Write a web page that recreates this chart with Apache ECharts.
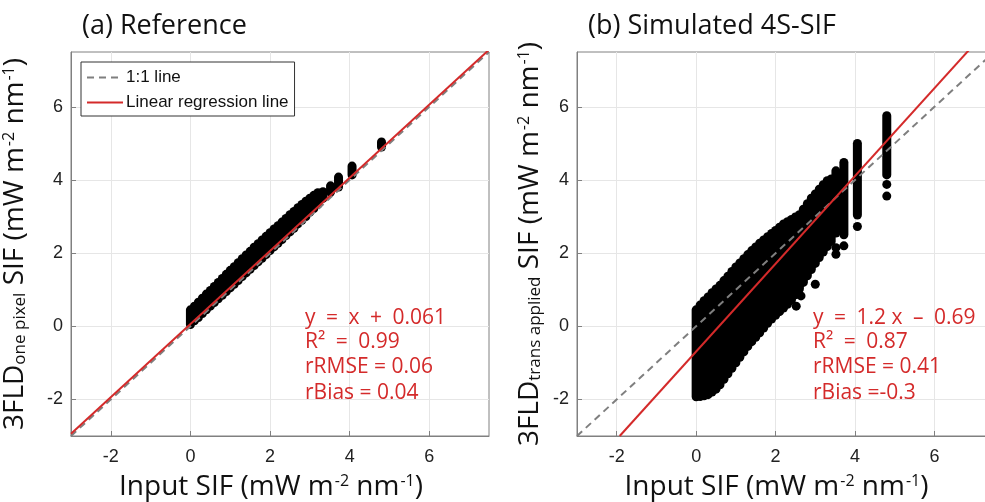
<!DOCTYPE html>
<html>
<head>
<meta charset="utf-8">
<script src="https://cdn.jsdelivr.net/npm/echarts@6/dist/echarts.min.js"></script>
<style>
  html, body { margin: 0; padding: 0; background: #fff; }
  #chart { width: 985px; height: 502px; }
</style>
</head>
<body>
<div id="chart"></div>
<script>
// tick labels shared by both panels
var tickValues = [-2, 0, 2, 4, 6];

// (a) Reference: points stack in columns at each input SIF value (x, lowest y, highest y)
var aColX  = [0, 0.1, 0.2, 0.3, 0.4, 0.5, 0.6, 0.7, 0.8, 0.9, 1.0, 1.1, 1.2, 1.3, 1.4, 1.5, 1.6, 1.7, 1.8, 1.9, 2.0, 2.1, 2.2, 2.3, 2.4, 2.5, 2.6, 2.7, 2.8, 2.9, 3.0, 3.1, 3.2, 3.33, 3.52, 3.72, 4.06, 4.8];
var aColLo = [0.05, 0.15, 0.24, 0.35, 0.45, 0.55, 0.65, 0.75, 0.85, 0.95, 1.05, 1.15, 1.25, 1.36, 1.46, 1.56, 1.66, 1.76, 1.86, 1.96, 2.07, 2.17, 2.27, 2.37, 2.48, 2.58, 2.68, 2.8, 2.9, 3.0, 3.12, 3.22, 3.33, 3.5, 3.67, 3.81, 4.14, 4.9];
var aColHi = [0.45, 0.55, 0.66, 0.77, 0.88, 0.98, 1.09, 1.2, 1.31, 1.42, 1.53, 1.63, 1.74, 1.85, 1.95, 2.05, 2.16, 2.26, 2.36, 2.46, 2.56, 2.66, 2.75, 2.85, 2.95, 3.05, 3.14, 3.24, 3.33, 3.42, 3.5, 3.58, 3.65, 3.68, 3.84, 4.08, 4.38, 5.04];

// (b) Simulated 4S-SIF
var bColX  = [0, 0.1, 0.2, 0.3, 0.4, 0.5, 0.6, 0.7, 0.8, 0.9, 1.0, 1.1, 1.2, 1.3, 1.4, 1.5, 1.6, 1.7, 1.8, 1.9, 2.0, 2.1, 2.2, 2.3, 2.4, 2.5, 2.6, 2.7, 2.8, 2.9, 3.0, 3.1, 3.2, 3.3, 3.4, 3.52, 3.72, 4.06, 4.8];
var bColLo = [-1.93, -1.92, -1.9, -1.87, -1.8, -1.72, -1.6, -1.45, -1.3, -1.15, -1.0, -0.85, -0.7, -0.55, -0.42, -0.3, -0.18, -0.05, 0.08, 0.2, 0.3, 0.4, 0.5, 0.6, 0.72, 0.86, 1.02, 1.2, 1.38, 1.55, 1.72, 1.88, 2.03, 2.18, 2.32, 2.55, 2.5, 3.04, 4.14];
var bColHi = [0.45, 0.58, 0.7, 0.8, 0.92, 1.02, 1.12, 1.25, 1.37, 1.5, 1.62, 1.73, 1.85, 1.96, 2.07, 2.17, 2.27, 2.36, 2.45, 2.54, 2.62, 2.71, 2.8, 2.86, 2.92, 2.99, 3.05, 3.2, 3.35, 3.5, 3.62, 3.75, 3.87, 3.98, 4.03, 4.25, 4.48, 5.0, 5.76];
// loose points under the columns
var bDotX = [2.52, 2.64, 3.0, 3.52, 3.52, 3.72, 4.06, 4.8, 4.8];
var bDotY = [0.55, 0.83, 1.15, 2.15, 1.97, 2.2, 2.73, 3.88, 3.56];

// 1:1 line and regression lines (end points)
var oneX = [-3, 7.5], oneY = [-3, 7.5];
var aFitX = [-3, 7.5], aFitY = [-2.939, 7.561];   // y = x + 0.061
var bFitX = [-1.925, 7.4], bFitY = [-3, 8.19];    // y = 1.2 x - 0.69

var SP = '\u2002';
var aStats = ['y' + SP + '=' + SP + 'x' + SP + '+' + SP + '0.061', 'R\u00b2' + SP + '=' + SP + '0.99', 'rRMSE = 0.06', 'rBias = 0.04'];
var bStats = ['y' + SP + '=' + SP + '1.2 x' + SP + '\u2013' + SP + '0.69', 'R\u00b2' + SP + '=' + SP + '0.87', 'rRMSE = 0.41', 'rBias =-0.3'];

var RED = '#d42a2a';
var GRAY = '#7f7f7f';
var AXC = '#808080';
var TXT = 'Open Sans';

function zip(xs, ys) {
  var out = [];
  for (var i = 0; i < xs.length; i++) out.push([xs[i], ys[i]]);
  return out;
}
function cols(xs, lo, hi) {
  var out = [];
  for (var i = 0; i < xs.length; i++) out.push([xs[i], lo[i], hi[i]]);
  return out;
}

function renderCol(params, api) {
  var p1 = api.coord([api.value(0), api.value(1)]);
  var p2 = api.coord([api.value(0), api.value(2)]);
  return {
    type: 'line',
    shape: { x1: p1[0], y1: p1[1], x2: p2[0], y2: p2[1] },
    style: { stroke: '#000', lineWidth: 9, lineCap: 'round' }
  };
}

var supStyle = { fontSize: 16, fontFamily: TXT, color: '#111', verticalAlign: 'top', padding: [0, 0, 0, 1] };
var subStyle = { fontSize: 17, fontFamily: TXT, color: '#111', verticalAlign: 'bottom' };

function xAxisOf(idx) {
  return {
    type: 'value', gridIndex: idx, min: -3, max: 7.5,
    name: 'Input SIF (mW m{sup|-2} nm{sup|-1})',
    nameLocation: 'middle', nameGap: 37, nameMoveOverlap: false,
    nameTextStyle: { fontSize: 28, fontFamily: TXT, color: '#111', padding: [0, 18, 0, 0], rich: { sup: supStyle } },
    axisLine: { onZero: false, lineStyle: { color: AXC } },
    axisTick: { inside: true, length: 5, customValues: tickValues, lineStyle: { color: AXC } },
    axisLabel: { customValues: tickValues, fontSize: 18, fontFamily: 'Liberation Sans', color: '#222', margin: 12 },
    splitLine: { show: true, lineStyle: { color: '#e6e6e6' } }
  };
}
function yAxisOf(idx, sub, gap) {
  return {
    type: 'value', gridIndex: idx, min: -3, max: 7.5,
    name: '3FLD{sub|' + sub + '} SIF (mW m{sup|-2} nm{sup|-1})',
    nameLocation: 'middle', nameGap: gap, nameMoveOverlap: false,
    nameTextStyle: { fontSize: 28, fontFamily: TXT, color: '#111', rich: { sup: supStyle, sub: subStyle } },
    axisLine: { onZero: false, lineStyle: { color: AXC } },
    axisTick: { inside: true, length: 5, customValues: tickValues, lineStyle: { color: AXC } },
    axisLabel: { customValues: tickValues, fontSize: 18, fontFamily: 'Liberation Sans', color: '#222', margin: 8 },
    splitLine: { show: true, lineStyle: { color: '#e6e6e6' } }
  };
}

function statText(lines, x) {
  var ys = [318, 342, 367, 393];
  return lines.map(function (t, i) {
    return {
      type: 'text', x: x, y: ys[i], z: 100,
      style: { text: t, fontSize: 21, fontFamily: TXT, fill: RED, verticalAlign: 'middle' }
    };
  });
}

var chart = echarts.init(document.getElementById('chart'), null, { renderer: 'canvas' });

chart.setOption({
  animation: false,
  backgroundColor: '#fff',
  grid: [
    { left: 71, top: 52, width: 418, height: 384, show: true, borderColor: AXC, borderWidth: 1, outerBoundsMode: 'none', containLabel: false },
    { left: 577, top: 52, width: 417, height: 384, show: true, borderColor: AXC, borderWidth: 1, outerBoundsMode: 'none', containLabel: false }
  ],
  xAxis: [xAxisOf(0), xAxisOf(1)],
  yAxis: [yAxisOf(0, 'one pixel', 42), yAxisOf(1, 'trans applied', 33)],
  legend: {
    orient: 'vertical', left: 81, top: 62,
    data: ['1:1 line', 'Linear regression line'],
    itemWidth: 36, itemHeight: 14, itemGap: 8,
    padding: [7, 6, 5, 5],
    itemStyle: { opacity: 0 },
    backgroundColor: '#fff', borderColor: '#333', borderWidth: 1, borderRadius: 0,
    textStyle: { fontSize: 17, fontFamily: 'Liberation Sans', color: '#111', padding: [0, 0, 0, -2] }
  },
  graphic: [
    { type: 'text', x: 82, y: 26, style: { text: '(a) Reference', fontSize: 27, fontFamily: TXT, fill: '#111', verticalAlign: 'middle' } },
    { type: 'text', x: 588, y: 26, style: { text: '(b) Simulated 4S-SIF', fontSize: 27, fontFamily: TXT, fill: '#111', verticalAlign: 'middle' } }
  ].concat(statText(aStats, 305), statText(bStats, 813)),
  series: [
    { type: 'custom', xAxisIndex: 0, yAxisIndex: 0, renderItem: renderCol, data: cols(aColX, aColLo, aColHi), z: 2, silent: true },
    { name: '1:1 line', type: 'line', xAxisIndex: 0, yAxisIndex: 0, data: zip(oneX, oneY), symbol: 'none', clip: true, z: 3,
      itemStyle: { color: GRAY }, lineStyle: { color: GRAY, width: 2, type: [7, 5] } },
    { name: 'Linear regression line', type: 'line', xAxisIndex: 0, yAxisIndex: 0, data: zip(aFitX, aFitY), symbol: 'none', clip: true, z: 4,
      itemStyle: { color: RED }, lineStyle: { color: RED, width: 2 } },

    { type: 'custom', xAxisIndex: 1, yAxisIndex: 1, renderItem: renderCol, data: cols(bColX, bColLo, bColHi), z: 2, silent: true },
    { type: 'scatter', xAxisIndex: 1, yAxisIndex: 1, data: zip(bDotX, bDotY), symbolSize: 9, itemStyle: { color: '#000', opacity: 1 }, z: 2, silent: true },
    { name: '1:1 line', type: 'line', xAxisIndex: 1, yAxisIndex: 1, data: zip(oneX, oneY), symbol: 'none', clip: true, z: 3,
      itemStyle: { color: GRAY }, lineStyle: { color: GRAY, width: 2, type: [7, 5] } },
    { name: 'Linear regression line', type: 'line', xAxisIndex: 1, yAxisIndex: 1, data: zip(bFitX, bFitY), symbol: 'none', clip: true, z: 4,
      itemStyle: { color: RED }, lineStyle: { color: RED, width: 2 } }
  ]
});
</script>
</body>
</html>
